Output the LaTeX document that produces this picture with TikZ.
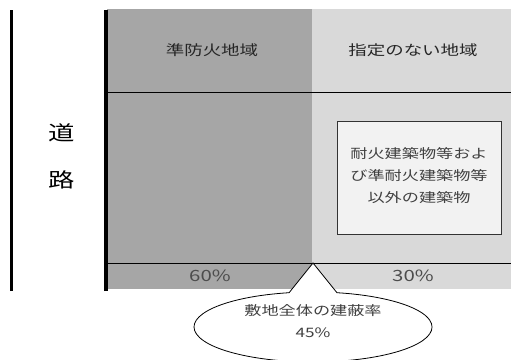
\documentclass[tikz,border=0pt]{standalone}
\usepackage{fontspec}
\newfontfamily\jp[FakeStretch=1.32]{Noto Sans CJK JP}
\definecolor{darkzone}{HTML}{A6A6A6}
\definecolor{lightzone}{HTML}{D9D9D9}
\definecolor{boxfill}{HTML}{F2F2F2}
\definecolor{txtdark}{HTML}{262626}
\definecolor{txtmid}{HTML}{404040}
\definecolor{txtpct}{HTML}{4D4D4D}
\begin{document}
\begin{tikzpicture}[x=1pt,y=1pt,
  title/.style={font=\jp\fontsize{14}{16}\selectfont, text=txtdark, inner sep=0pt},
  road/.style={font=\jp\fontsize{20}{22}\selectfont, text=black, inner sep=0pt},
  pct/.style={font=\jp\fontsize{15.5}{16}\selectfont, text=txtpct, inner sep=0pt},
  small/.style={font=\jp\fontsize{13}{22}\selectfont, text=txtmid, align=center, inner sep=0pt},
  rule/.style={draw=black, line width=0.9pt},
  bar/.style={draw=black, line width=3.6pt}]
\useasboundingbox (0,0) rectangle (511,359);
% zones
\fill[darkzone] (107,70) rectangle (312,350);
\fill[lightzone] (312,70) rectangle (511,350);
\draw[rule] (107,267) -- (511,267);
\draw[rule] (107,96) -- (511,96);
% bars
\draw[bar] (11.5,68) -- (11.5,349);
\draw[bar, line width=4pt] (106,68) -- (106,349);
% titles
\node[title] (t1) at (212,309) {準防火地域};
\node[title] (t2) at (413,309) {指定のない地域};
% road
\node[road] (r1) at (62,226) {道};
\node[road] (r2) at (62,179) {路};
% inner box
\node[draw=black!80, fill=boxfill, line width=0.9pt, minimum width=164pt, minimum height=113pt, inner sep=0pt] (bx) at (419,181.5) {};
\node[small] (bxt) at (419,183) {耐火建築物等およ\\び準耐火建築物等\\以外の建築物};
% percents
\node[pct] (p1) at (210,83) {60\%};
\node[pct] (p2) at (413,83) {30\%};
% callout
\coordinate (tip) at (313,96);
\draw[fill=white, line width=0.8pt] (tip) -- (289.1,66.3) arc[start angle=101.6, end angle=438.4, x radius=119, y radius=35] -- cycle;
\node[small] (ct) at (313,38) {敷地全体の建蔽率\\45\%};
\end{tikzpicture}
\end{document}
